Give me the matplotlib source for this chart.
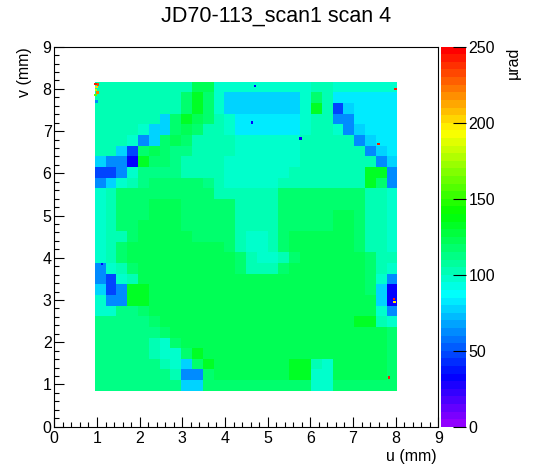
import colorsys
import numpy as np
import matplotlib
matplotlib.use("Agg")
import matplotlib.pyplot as plt
from matplotlib.colors import ListedColormap, Normalize
from matplotlib.ticker import MultipleLocator

plt.rcParams['font.family'] = ['Liberation Sans', 'DejaVu Sans']

title = "JD70-113_scan1 scan 4"
x_label = "u (mm)"
y_label = "v (mm)"
z_label = "\u00b5rad"
z_ticks = [0, 50, 100, 150, 200, 250]

# extent of the scanned area (mm)
u_lo, u_hi = 0.95, 8.04
v_lo, v_hi = 0.85, 8.17

# value of each letter in the map below (urad)
code_value = {'D': 32, 'B': 47, 'b': 62, 'l': 77, 'a': 84, 'C': 95,
              'c': 102, 'n': 112, 'm': 117, 'g': 122, 'G': 132}

# map, ~0.25 mm cells, top row first
map_rows = [
    "cccccccccggCCCCCCCCCccCCCCCC",
    "ccccccccmGmClllllllCmcaaaaaa",
    "ccccccccmGmClllllllCGcBlaaaa",
    "cccccclmGgmcCaaaaaaCccbbaaaa",
    "ccccCllmgmccCaaaaaaCccCblaaa",
    "cccCblmgmccccCCCCCCcccccblaa",
    "cclBmgmnnccccCCCCCCccccccbla",
    "lbbDGmmnccccCCCCCCCcccccccbl",
    "BBbCnnnnccccCCCCCCcccccccGGb",
    "blCcnmmmmmncCCCCCccccccccGmb",
    "CcmmmmmmmmmccccccmmmmmmmmccC",
    "CcmmmgggmmmmmccccmmmmmmmmccC",
    "CcmmmgggmmmmmccccmmmmmggmccC",
    "CcmmggggmmmmmccccmmmmmggmccC",
    "CccmgggggmmmmcCCcmggggggmccC",
    "CcmgggggggggmcCCcmggggggmccC",
    "CcmggggggggggmcCCcmggggggmcc",
    "bCcmgggggggggmcccmgggggggmcC",
    "bBCcgggggggggggggggggggggmCb",
    "lBbGGggggggggggggggggggggmlD",
    "CbbGGggggggggggggggggggggglD",
    "CCnnmgggggggggggggggggggggCb",
    "nnnnnmggggggggggggggggggGGcC",
    "nnnnnnmggggggggggggggggggggm",
    "nnnnncCmgggggggggggggggggggm",
    "nnnnncCCmGgggggggggggggggggm",
    "nnnnnncClmGgggggggGGcCgggggm",
    "nnnnnnncbbmgggggggGGCCgggggm",
    "nnnnnnnnllmmmmmmmmmmCCmmmmmm",
]

# single hot / cold pixels
spot_u = [0.97, 0.99, 1.02, 0.98, 1.01, 0.97, 0.99, 7.97, 7.96, 4.70, 4.63, 5.77, 1.12, 7.85, 7.60, 8.00]
spot_v = [8.12, 8.05, 8.10, 7.97, 7.92, 7.85, 7.70, 2.95, 3.03, 8.07, 7.20, 6.83, 3.86, 1.17, 6.70, 8.00]
spot_val = [240, 200, 230, 180, 220, 160, 60, 195, 240, 30, 30, 30, 30, 240, 240, 240]

grid = np.array([[code_value[ch] for ch in row] for row in map_rows], dtype=float)[::-1]
u_edges = np.linspace(u_lo, u_hi, grid.shape[1] + 1)
v_edges = np.linspace(v_lo, v_hi, grid.shape[0] + 1)

# ROOT "pretty" palette: 50 hues violet -> red
hues = [280 - (i + 1) * 5.6 for i in range(50)]
cmap = ListedColormap([colorsys.hls_to_rgb(h / 360.0, 0.5, 1.0) for h in hues])
norm = Normalize(0, 250)

fig = plt.figure(figsize=(5.48, 4.74), dpi=100)
ax = fig.add_axes([54.3 / 548, 47.3 / 474, 384 / 548, 380 / 474])
cax = fig.add_axes([441 / 548, 47.3 / 474, 24.7 / 548, 380 / 474])

mesh = ax.pcolormesh(u_edges, v_edges, grid, cmap=cmap, norm=norm)
ax.scatter(spot_u, spot_v, c=spot_val, cmap=cmap, norm=norm, marker='s', s=3, linewidths=0)

ax.set_xlim(0, 9)
ax.set_ylim(0, 9)
for axis in (ax.xaxis, ax.yaxis):
    axis.set_major_locator(MultipleLocator(1))
    axis.set_minor_locator(MultipleLocator(0.2))
ax.tick_params(which='both', direction='in', top=False, right=False, width=0.8, labelsize=11.5)
ax.tick_params(which='major', length=7.2)
ax.tick_params(which='minor', length=3.6)
ax.tick_params(axis='x', pad=3)
ax.tick_params(axis='y', pad=2)
for sp in ax.spines.values():
    sp.set_linewidth(0.8)

cb = fig.colorbar(mesh, cax=cax, ticks=z_ticks)
cb.outline.set_visible(False)
cax.tick_params(direction='in', length=9.7, width=0.8, labelsize=11.5, pad=2)

fig.text(276 / 548, 1 - 16.5 / 474, title, ha='center', va='center', fontsize=15.5)
fig.text(437 / 548, 1 - 456 / 474, x_label, ha='right', va='center', fontsize=11.5)
fig.text(25 / 548, 1 - 47 / 474, y_label, ha='center', va='top', rotation=90, fontsize=11.5)
fig.text(513 / 548, 1 - 47 / 474, z_label, ha='center', va='top', rotation=90, fontsize=11.5)

fig.savefig("out.png", dpi=100)
